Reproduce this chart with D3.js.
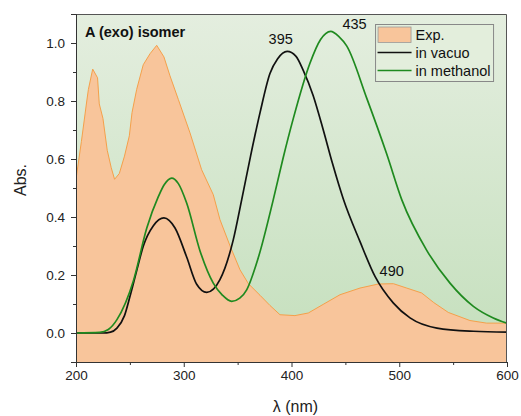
<!DOCTYPE html>
<html>
<head>
<meta charset="utf-8">
<script src="https://cdn.jsdelivr.net/npm/d3@7"></script>
<style>
  html, body { margin: 0; padding: 0; background: #fff; }
  svg { display: block; font-family: "Liberation Sans", Arial, sans-serif; }
</style>
</head>
<body>
<svg id="chart" width="521" height="416"></svg>
<script>
// experimental spectrum (nm, Abs.)
const expWl = [200, 205, 210, 211.5, 215.5, 220, 221.6, 225, 229, 232.7, 235.8, 240.2, 245, 249.5, 252, 256.3, 262.4, 268.7, 274.9, 281.6, 287.2, 295, 305.8, 316.6, 327.4, 333.6, 343, 352.2, 360, 370.8, 380, 389.3, 403.2, 415.6, 430, 445, 463.6, 480.6, 494.6, 506.9, 520.8, 532, 545.5, 565.6, 581.1, 600];
const expAbs = [0.53, 0.66, 0.80, 0.84, 0.91, 0.88, 0.79, 0.74, 0.63, 0.57, 0.53, 0.55, 0.61, 0.68, 0.76, 0.84, 0.925, 0.963, 0.992, 0.952, 0.887, 0.805, 0.69, 0.563, 0.477, 0.391, 0.30, 0.218, 0.17, 0.13, 0.095, 0.063, 0.06, 0.069, 0.10, 0.132, 0.155, 0.169, 0.17, 0.155, 0.138, 0.105, 0.071, 0.043, 0.034, 0.034];

// computed, in vacuo
const vacWl = [200, 225, 232, 238, 245, 250, 256, 262.5, 271.8, 281.6, 291.9, 302.7, 312, 321.3, 333.6, 346, 353.8, 362, 370.8, 380, 387, 396, 404, 411, 420, 429.5, 438, 448, 463.6, 477.5, 494.6, 510, 535, 569, 600];
const vacAbs = [0, 0, 0.003, 0.017, 0.06, 0.125, 0.21, 0.30, 0.37, 0.397, 0.362, 0.262, 0.168, 0.140, 0.184, 0.322, 0.46, 0.61, 0.76, 0.895, 0.945, 0.971, 0.955, 0.905, 0.82, 0.70, 0.585, 0.463, 0.315, 0.195, 0.103, 0.052, 0.017, 0.006, 0.003];

// computed, in methanol
const metWl = [200, 222, 230, 238, 253.3, 265.7, 276.4, 282, 288.8, 295, 302.7, 315.1, 327.4, 336, 344.5, 352, 358.4, 369.2, 383.1, 392, 401.7, 417.2, 427, 436.4, 444, 451.2, 469.8, 488.3, 502.3, 525.5, 547.1, 568.8, 587.3, 600];
const metAbs = [0, 0.002, 0.012, 0.046, 0.18, 0.362, 0.47, 0.512, 0.534, 0.515, 0.448, 0.283, 0.172, 0.13, 0.109, 0.12, 0.149, 0.26, 0.46, 0.6, 0.74, 0.931, 1.012, 1.04, 1.022, 0.99, 0.81, 0.618, 0.46, 0.285, 0.172, 0.092, 0.052, 0.034];

const xTicks = [200, 300, 400, 500, 600];
const yTicks = [0.0, 0.2, 0.4, 0.6, 0.8, 1.0];

// label anchor points (data coords)
const peakLabels = [
    { text: "395", wl: 390, abs: 0.995 },
    { text: "435", wl: 458.5, abs: 1.047 },
    { text: "490", wl: 493, abs: 0.195 }
];

const legendItems = [
    { name: "Exp.", kind: "area", color: "#f8c59b" },
    { name: "in vacuo", kind: "line", color: "#111111" },
    { name: "in methanol", kind: "line", color: "#1f8a1f" }
];

const W = 521, H = 416;
const margin = { top: 14, right: 14, bottom: 54, left: 76 };
const iw = W - margin.left - margin.right;
const ih = H - margin.top - margin.bottom;

const svg = d3.select("#chart");

const defs = svg.append("defs");
const grad = defs.append("linearGradient")
    .attr("id", "bg")
    .attr("x1", 0).attr("y1", 0).attr("x2", 0).attr("y2", 1);
grad.append("stop").attr("offset", "0%").attr("stop-color", "#e4eedf");
grad.append("stop").attr("offset", "100%").attr("stop-color", "#c4dfbc");
defs.append("clipPath").attr("id", "clip")
    .append("rect").attr("width", iw).attr("height", ih);

const g = svg.append("g").attr("transform", `translate(${margin.left},${margin.top})`);

const x = d3.scaleLinear().domain([200, 600]).range([0, iw]);
const y = d3.scaleLinear().domain([-0.1, 1.1]).range([ih, 0]);

// plot background
g.append("rect").attr("width", iw).attr("height", ih).attr("fill", "url(#bg)");

const plot = g.append("g").attr("clip-path", "url(#clip)");

const expData = expWl.map((w, i) => [w, expAbs[i]]);
const vacData = vacWl.map((w, i) => [w, vacAbs[i]]);
const metData = metWl.map((w, i) => [w, metAbs[i]]);

plot.append("path")
    .datum(expData)
    .attr("fill", "#f8c59b")
    .attr("d", d3.area().x(d => x(d[0])).y0(ih).y1(d => y(d[1])));

plot.append("path")
    .datum(expData)
    .attr("fill", "none")
    .attr("stroke", "#f5a04a")
    .attr("stroke-width", 1)
    .attr("d", d3.line().x(d => x(d[0])).y(d => y(d[1])));

const smooth = d3.line().x(d => x(d[0])).y(d => y(d[1])).curve(d3.curveMonotoneX);

plot.append("path").datum(vacData)
    .attr("fill", "none").attr("stroke", "#111111").attr("stroke-width", 1.7)
    .attr("d", smooth);

plot.append("path").datum(metData)
    .attr("fill", "none").attr("stroke", "#1f8a1f").attr("stroke-width", 1.7)
    .attr("d", smooth);

// frame (top/right)
g.append("path")
    .attr("d", `M0,0.5H${iw - 0.5}V${ih}`)
    .attr("fill", "none").attr("stroke", "#555").attr("stroke-width", 1);

// axes
const xAxis = g.append("g").attr("transform", `translate(0,${ih})`)
    .call(d3.axisBottom(x).tickValues(xTicks).tickSize(5).tickPadding(3).tickFormat(d3.format("d")));
g.append("g").attr("transform", `translate(0,${ih})`)
    .call(d3.axisBottom(x).tickValues(d3.range(250, 600, 100)).tickSize(3).tickFormat(""))
    .call(a => a.select(".domain").remove());

const yAxis = g.append("g")
    .call(d3.axisLeft(y).tickValues(yTicks).tickSize(5).tickPadding(6).tickFormat(d3.format(".1f")));
g.append("g")
    .call(d3.axisLeft(y).tickValues([-0.1, 0.1, 0.3, 0.5, 0.7, 0.9]).tickSize(3).tickFormat(""))
    .call(a => a.select(".domain").remove());

svg.selectAll(".domain").attr("stroke", "#333");
svg.selectAll(".tick line").attr("stroke", "#333");
xAxis.selectAll("text").attr("font-size", 13.5).attr("fill", "#222")
    .attr("font-family", "Liberation Sans, Arial, sans-serif");
yAxis.selectAll("text").attr("font-size", 13.5).attr("fill", "#222")
    .attr("font-family", "Liberation Sans, Arial, sans-serif");

// axis titles
svg.append("text")
    .attr("transform", `translate(26,180) rotate(-90)`)
    .attr("text-anchor", "middle")
    .attr("font-size", 16).attr("fill", "#222")
    .text("Abs.");
svg.append("text")
    .attr("x", margin.left + iw / 2 + 4).attr("y", 412)
    .attr("text-anchor", "middle")
    .attr("font-size", 16).attr("fill", "#222")
    .text("λ (nm)");

// panel title
g.append("text")
    .attr("x", 9).attr("y", 23)
    .attr("font-size", 14.5).attr("font-weight", "bold").attr("fill", "#111")
    .text("A (exo) isomer");

// peak labels
g.selectAll(".peak")
    .data(peakLabels)
    .join("text")
    .attr("class", "peak")
    .attr("x", d => x(d.wl))
    .attr("y", d => y(d.abs))
    .attr("text-anchor", "middle")
    .attr("font-size", 14.5).attr("fill", "#111")
    .text(d => d.text);

// legend
const lg = g.append("g").attr("transform", `translate(${x(478)},${10.5})`);
lg.append("rect")
    .attr("width", 118).attr("height", 57)
    .attr("fill", "#e3eedc").attr("stroke", "#888").attr("stroke-width", 1);
legendItems.forEach((d, i) => {
    const cy = 10 + i * 18;
    if (d.kind === "area") {
        lg.append("rect").attr("x", 2.5).attr("y", cy - 7.5).attr("width", 33).attr("height", 15.5)
            .attr("fill", d.color).attr("stroke", "#999").attr("stroke-width", 0.8);
    } else {
        lg.append("line").attr("x1", 2).attr("x2", 36).attr("y1", cy).attr("y2", cy)
            .attr("stroke", d.color).attr("stroke-width", 1.7);
    }
    lg.append("text")
        .attr("x", 40).attr("y", cy + 5)
        .attr("font-size", 14.5).attr("fill", "#111")
        .text(d.name);
});
</script>
</body>
</html>
